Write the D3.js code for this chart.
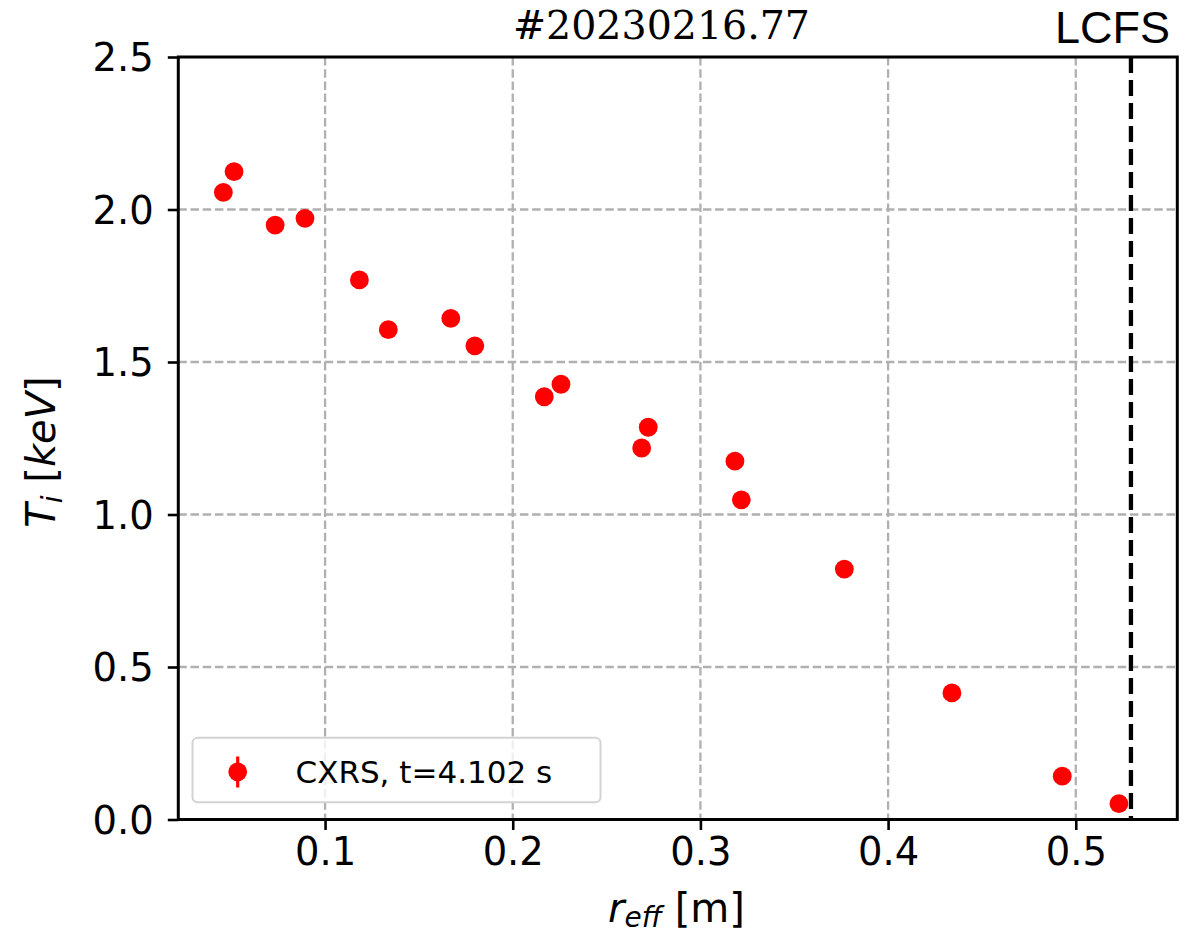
<!DOCTYPE html>
<html>
<head>
<meta charset="utf-8">
<script src="https://cdn.jsdelivr.net/npm/d3@7"></script>
<style>
  html, body { margin: 0; padding: 0; background: #fff; }
  svg { display: block; }
</style>
</head>
<body>
<div id="chart"></div>
<script>
// CXRS ion temperature profile, shot #20230216.77
const rEff = [0.0458, 0.0515, 0.0734, 0.0893, 0.1183, 0.1337, 0.1670, 0.1798,
              0.2168, 0.2257, 0.2687, 0.2722, 0.3184, 0.3218, 0.3767, 0.4340,
              0.4928, 0.5230];
const Ti   = [2.056, 2.124, 1.949, 1.971, 1.769, 1.606, 1.643, 1.553,
              1.386, 1.427, 1.218, 1.286, 1.175, 1.048, 0.821, 0.415,
              0.142, 0.052];
const xTicks = [0.1, 0.2, 0.3, 0.4, 0.5];
const yTicks = [0.0, 0.5, 1.0, 1.5, 2.0, 2.5];
const lcfs = 0.5294;
const shotTitle = "#20230216.77";
const legendLabel = "CXRS, t=4.102 s";

const W = 1201, H = 936;
const m = { left: 178.3, right: 1177.3, top: 57, bottom: 819.5 };

const svg = d3.select("#chart").append("svg")
  .attr("width", W).attr("height", H);

const x = d3.scaleLinear().domain([0.0218, 0.5541]).range([m.left, m.right]);
const y = d3.scaleLinear().domain([0, 2.5]).range([m.bottom, m.top]);

// grid
const grid = svg.append("g")
  .attr("stroke", "#b0b0b0").attr("stroke-width", 2.3)
  .attr("stroke-dasharray", "8.5,3.7");
grid.selectAll("line.gx").data(xTicks).join("line")
  .attr("x1", d => x(d)).attr("x2", d => x(d))
  .attr("y1", m.top).attr("y2", m.bottom);
grid.selectAll("line.gy").data(yTicks.slice(1, -1)).join("line")
  .attr("x1", m.left).attr("x2", m.right)
  .attr("y1", d => y(d)).attr("y2", d => y(d));

// LCFS marker line
svg.append("line")
  .attr("x1", x(lcfs)).attr("x2", x(lcfs))
  .attr("y1", m.top).attr("y2", m.bottom)
  .attr("stroke", "#000").attr("stroke-width", 4.3)
  .attr("stroke-dasharray", "16,7");

// data points
svg.append("g").selectAll("circle").data(rEff).join("circle")
  .attr("cx", d => x(d))
  .attr("cy", (d, i) => y(Ti[i]))
  .attr("r", 9.4)
  .attr("fill", "#ff0000");

// axes
const tickFont = "38.5px 'DejaVu Sans'";
const xAxis = svg.append("g")
  .attr("transform", `translate(0,${m.bottom})`)
  .call(d3.axisBottom(x).tickValues(xTicks).tickFormat(d3.format(".1f"))
    .tickSizeInner(10.5).tickSizeOuter(0).tickPadding(8));
const yAxis = svg.append("g")
  .attr("transform", `translate(${m.left},0)`)
  .call(d3.axisLeft(y).tickValues(yTicks).tickFormat(d3.format(".1f"))
    .tickSizeInner(10.5).tickSizeOuter(0).tickPadding(14));
[xAxis, yAxis].forEach(a => {
  a.select(".domain").remove();
  a.selectAll(".tick line").attr("stroke", "#000").attr("stroke-width", 2.6);
  a.selectAll(".tick text").style("font", tickFont).attr("fill", "#000");
});
xAxis.selectAll(".tick text").attr("dy", "0.71em");
yAxis.selectAll(".tick text").attr("dy", "0.36em");

// frame
svg.append("rect")
  .attr("x", m.left).attr("y", m.top)
  .attr("width", m.right - m.left).attr("height", m.bottom - m.top)
  .attr("fill", "none").attr("stroke", "#000").attr("stroke-width", 3);

// legend
const lg = svg.append("g");
lg.append("rect")
  .attr("x", 192.5).attr("y", 737.8).attr("width", 408).attr("height", 64.5)
  .attr("rx", 5).attr("fill", "#fff").attr("fill-opacity", 0.8)
  .attr("stroke", "#d3d3d3").attr("stroke-width", 2);
lg.append("line")
  .attr("x1", 237.7).attr("x2", 237.7).attr("y1", 756.5).attr("y2", 787.5)
  .attr("stroke", "#ff0000").attr("stroke-width", 3.2);
lg.append("circle").attr("cx", 237.7).attr("cy", 771.8).attr("r", 9.4).attr("fill", "#ff0000");
lg.append("text")
  .attr("x", 295.5).attr("y", 782.5)
  .style("font", "31px 'DejaVu Sans'").attr("fill", "#000")
  .text(legendLabel);

// axis labels
const xl = svg.append("text")
  .attr("x", 676.5).attr("y", 922).attr("text-anchor", "middle")
  .style("font-family", "'DejaVu Sans'").style("font-size", "40px").attr("fill", "#000");
xl.append("tspan").style("font-style", "italic").text("r");
xl.append("tspan").style("font-style", "italic").style("font-size", "28px").attr("dy", 5).text("eff");
xl.append("tspan").attr("dy", -5).text(" [m]");

const yl = svg.append("text")
  .attr("transform", "translate(55,452) rotate(-90)")
  .attr("text-anchor", "middle")
  .style("font-family", "'DejaVu Sans'").style("font-size", "40px").attr("fill", "#000");
yl.append("tspan").style("font-style", "italic").text("T");
yl.append("tspan").style("font-style", "italic").style("font-size", "28px").attr("dy", 7).text("i");
yl.append("tspan").attr("dy", -7).text(" [");
yl.append("tspan").style("font-style", "italic").text("keV");
yl.append("tspan").text("]");

// title and LCFS label
svg.append("text")
  .attr("x", 661.5).attr("y", 39).attr("text-anchor", "middle")
  .style("font", "39.5px 'DejaVu Serif'").attr("fill", "#000")
  .text(shotTitle);
svg.append("text")
  .attr("x", 1055).attr("y", 42.7)
  .style("font", "45px 'Liberation Sans'").attr("fill", "#000")
  .text("LCFS");
</script>
</body>
</html>
